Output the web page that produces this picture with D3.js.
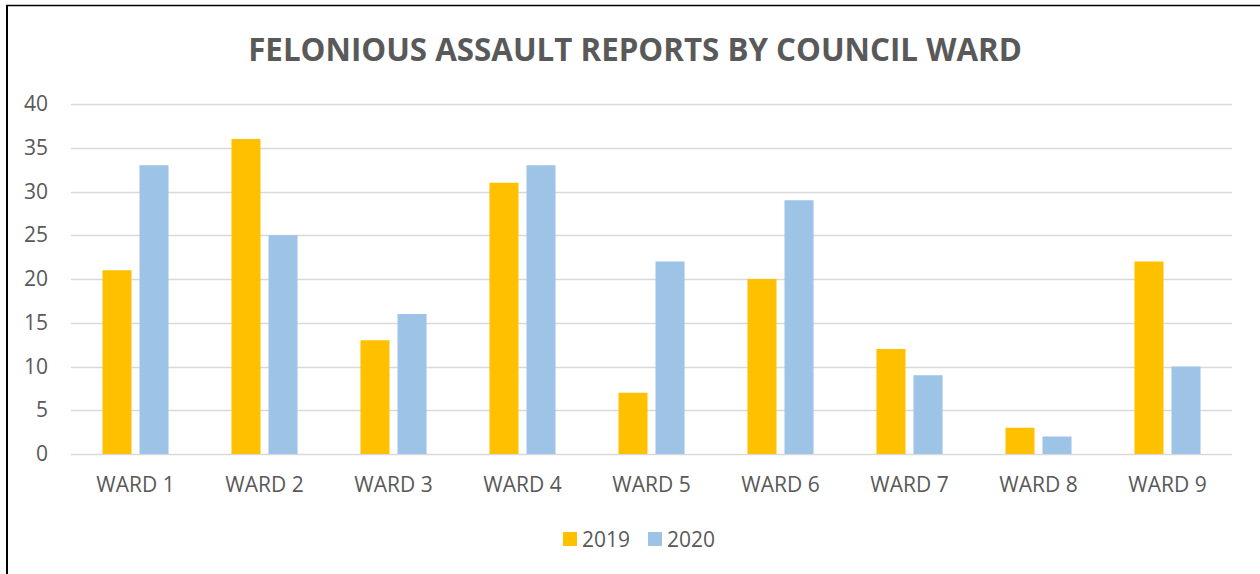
<!DOCTYPE html>
<html lang="en">
<head>
  <meta charset="UTF-8">
  <title>Felonious Assault Reports by Council Ward</title>
  <style>
    body {
      margin: 0;
      background: #fff;
      font-family: "Open Sans", "Liberation Sans", sans-serif;
    }
    #chart {
      width: 1260px;
      height: 574px;
    }
  </style>
</head>
<body>
  <div id="chart"></div>

  <script src="https://d3js.org/d3.v7.min.js"></script>
  <script>
    const wards = ["WARD 1", "WARD 2", "WARD 3", "WARD 4", "WARD 5", "WARD 6", "WARD 7", "WARD 8", "WARD 9"];
    const years = ["2019", "2020"];
    const values2019 = [21, 36, 13, 31, 7, 20, 12, 3, 22];
    const values2020 = [33, 25, 16, 33, 22, 29, 9, 2, 10];
    const yTicks = [0, 5, 10, 15, 20, 25, 30, 35, 40];
    const colors = ["#ffc000", "#9dc3e6"];

    const width = 1260, height = 574;
    const margin = {top: 104, right: 28, bottom: 120, left: 71};
    const labelFont = "'Open Sans', sans-serif";

    const rows = wards.map((w, i) => ({ward: w, v: [values2019[i], values2020[i]]}));

    const svg = d3.select("#chart").append("svg")
      .attr("width", width)
      .attr("height", height);

    // frame (only left and top edges show in the original)
    svg.append("line")
      .attr("x1", 7).attr("x2", 7).attr("y1", 5).attr("y2", height)
      .attr("stroke", "#000").attr("stroke-width", 2);
    svg.append("line")
      .attr("x1", 6).attr("x2", width).attr("y1", 5.5).attr("y2", 5.5)
      .attr("stroke", "#000").attr("stroke-width", 1.5);

    const x = d3.scaleBand()
      .domain(wards)
      .range([margin.left, width - margin.right]);

    const x1 = d3.scaleBand()
      .domain(years)
      .range([0, x.bandwidth()])
      .paddingInner(0.216)
      .paddingOuter(0.85);

    const y = d3.scaleLinear()
      .domain([0, 40])
      .range([height - margin.bottom, margin.top]);

    // gridlines
    svg.append("g")
      .selectAll("line")
      .data(yTicks)
      .join("line")
      .attr("x1", margin.left)
      .attr("x2", width - margin.right)
      .attr("y1", d => Math.round(y(d)) + 0.5)
      .attr("y2", d => Math.round(y(d)) + 0.5)
      .attr("stroke", "#d9d9d9")
      .attr("stroke-width", 1.5);

    // y axis labels
    const yAxis = d3.axisLeft(y).tickValues(yTicks).tickSize(0).tickPadding(0);
    const gy = svg.append("g")
      .attr("transform", "translate(48,0)")
      .call(yAxis);
    gy.select(".domain").remove();
    gy.selectAll("text")
      .attr("fill", "#595959")
      .attr("font-size", 21)
      .attr("font-family", labelFont);

    // bars
    svg.append("g")
      .selectAll("g")
      .data(rows)
      .join("g")
      .attr("transform", d => `translate(${x(d.ward)},0)`)
      .selectAll("rect")
      .data(d => d.v.map((v, j) => ({year: years[j], v, j})))
      .join("rect")
      .attr("x", d => x1(d.year))
      .attr("width", x1.bandwidth())
      .attr("y", d => y(d.v))
      .attr("height", d => y(0) - y(d.v))
      .attr("fill", d => colors[d.j]);

    // x axis labels
    const xAxis = d3.axisBottom(x).tickSize(0).tickPadding(0);
    const gx = svg.append("g")
      .attr("transform", `translate(0,${y(0)})`)
      .call(xAxis);
    gx.select(".domain").remove();
    gx.selectAll("text")
      .attr("fill", "#595959")
      .attr("font-size", 21)
      .attr("y", 38)
      .attr("dy", 0)
      .attr("font-family", labelFont);

    // title
    svg.append("text")
      .attr("x", 635)
      .attr("y", 61)
      .attr("text-anchor", "middle")
      .attr("fill", "#595959")
      .attr("font-size", 31.3)
      .attr("font-weight", "bold")
      .attr("font-family", labelFont)
      .text("FELONIOUS ASSAULT REPORTS BY COUNCIL WARD");

    // legend
    const legendX = [563, 648];
    const legend = svg.append("g")
      .selectAll("g")
      .data(years)
      .join("g")
      .attr("transform", (d, i) => `translate(${legendX[i]},532)`);
    legend.append("rect")
      .attr("width", 14)
      .attr("height", 14)
      .attr("fill", (d, i) => colors[i]);
    legend.append("text")
      .attr("x", 19)
      .attr("y", 14.5)
      .attr("fill", "#595959")
      .attr("font-size", 21)
      .attr("font-family", labelFont)
      .text(d => d);
  </script>
</body>
</html>
